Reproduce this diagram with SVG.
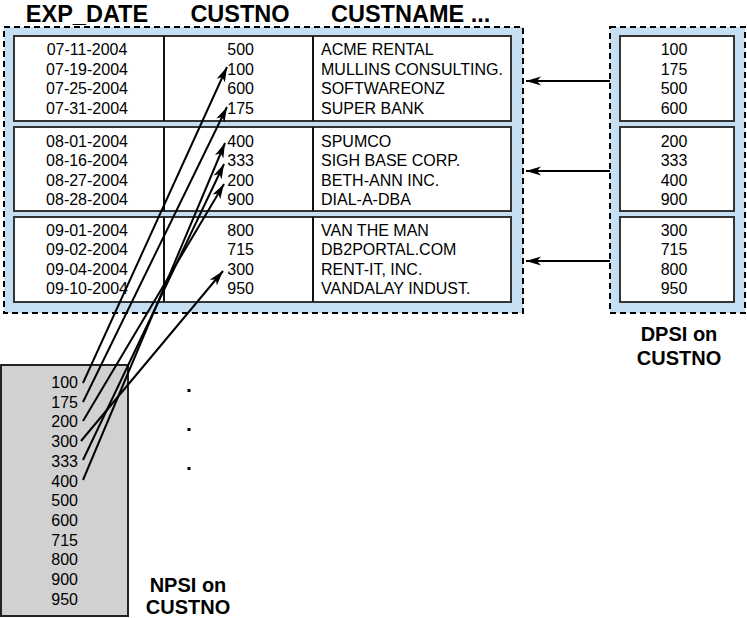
<svg xmlns="http://www.w3.org/2000/svg" width="747" height="618" viewBox="0 0 747 618">
<style>
.t{font-family:"Liberation Sans",Arial,sans-serif;font-size:16px;fill:#000}
.h{font-family:"Liberation Sans",Arial,sans-serif;font-size:23.5px;font-weight:bold;fill:#000}
.l{font-family:"Liberation Sans",Arial,sans-serif;font-size:20px;font-weight:bold;fill:#000;text-anchor:middle}
.c{text-anchor:middle}
.r{text-anchor:end}
.dash{fill:#c6def2;stroke:#000;stroke-width:2;stroke-dasharray:6,4}
.cell{fill:#fff;stroke:#333;stroke-width:2}
.sep{stroke:#111;stroke-width:2}
.ar{stroke:#000;stroke-width:2;fill:none;marker-end:url(#ah)}
</style>
<defs>
<marker id="ah" markerUnits="userSpaceOnUse" markerWidth="18" markerHeight="12" refX="15" refY="5" orient="auto">
<path d="M0,0.5 L15,5 L0,9.5 L4,5 Z" fill="#000"/>
</marker>
</defs>
<g id="headers">
<text class="h c" x="87" y="21.5">EXP_DATE</text>
<text class="h c" x="240" y="21.5">CUSTNO</text>
<text class="h" x="331" y="21.5">CUSTNAME ...</text>
</g>
<g id="table">
<rect class="dash" x="4" y="27" width="519" height="286"/>
<rect class="cell" x="14" y="36" width="497" height="85"/>
<rect class="cell" x="14" y="127" width="497" height="84"/>
<rect class="cell" x="14" y="217" width="497" height="85"/>
<line class="sep" x1="164" y1="36" x2="164" y2="121"/>
<line class="sep" x1="313" y1="36" x2="313" y2="121"/>
<line class="sep" x1="164" y1="127" x2="164" y2="211"/>
<line class="sep" x1="313" y1="127" x2="313" y2="211"/>
<line class="sep" x1="164" y1="217" x2="164" y2="302"/>
<line class="sep" x1="313" y1="217" x2="313" y2="302"/>
<g class="t c">
<text x="87" y="55">07-11-2004</text>
<text x="87" y="74.5">07-19-2004</text>
<text x="87" y="94">07-25-2004</text>
<text x="87" y="113.5">07-31-2004</text>
<text x="87" y="146.5">08-01-2004</text>
<text x="87" y="166">08-16-2004</text>
<text x="87" y="185.5">08-27-2004</text>
<text x="87" y="205">08-28-2004</text>
<text x="87" y="235.5">09-01-2004</text>
<text x="87" y="255">09-02-2004</text>
<text x="87" y="274.5">09-04-2004</text>
<text x="87" y="294">09-10-2004</text>
</g>
<g class="t r">
<text x="254" y="55">500</text>
<text x="254" y="74.5">100</text>
<text x="254" y="94">600</text>
<text x="254" y="113.5">175</text>
<text x="254" y="146.5">400</text>
<text x="254" y="166">333</text>
<text x="254" y="185.5">200</text>
<text x="254" y="205">900</text>
<text x="254" y="235.5">800</text>
<text x="254" y="255">715</text>
<text x="254" y="274.5">300</text>
<text x="254" y="294">950</text>
</g>
<g class="t">
<text x="321" y="55">ACME RENTAL</text>
<text x="321" y="74.5">MULLINS CONSULTING.</text>
<text x="321" y="94">SOFTWAREONZ</text>
<text x="321" y="113.5">SUPER BANK</text>
<text x="321" y="146.5">SPUMCO</text>
<text x="321" y="166">SIGH BASE CORP.</text>
<text x="321" y="185.5">BETH-ANN INC.</text>
<text x="321" y="205">DIAL-A-DBA</text>
<text x="321" y="235.5">VAN THE MAN</text>
<text x="321" y="255">DB2PORTAL.COM</text>
<text x="321" y="274.5">RENT-IT, INC.</text>
<text x="321" y="294">VANDALAY INDUST.</text>
</g>
</g>
<g id="dpsi">
<rect class="dash" x="610" y="27" width="135" height="286"/>
<rect class="cell" x="620" y="36" width="114" height="85"/>
<rect class="cell" x="620" y="127" width="114" height="84"/>
<rect class="cell" x="620" y="217" width="114" height="85"/>
<g class="t c">
<text x="674" y="55">100</text>
<text x="674" y="74.5">175</text>
<text x="674" y="94">500</text>
<text x="674" y="113.5">600</text>
<text x="674" y="146.5">200</text>
<text x="674" y="166">333</text>
<text x="674" y="185.5">400</text>
<text x="674" y="205">900</text>
<text x="674" y="235.5">300</text>
<text x="674" y="255">715</text>
<text x="674" y="274.5">800</text>
<text x="674" y="294">950</text>
</g>
<text class="l" x="679" y="341">DPSI on</text>
<text class="l" x="679" y="365">CUSTNO</text>
</g>
<g id="npsi">
<rect x="1" y="365" width="127" height="251" fill="#d1d1d1" stroke="#222" stroke-width="2"/>
<g class="t r">
<text x="78" y="388">100</text>
<text x="78" y="407.7">175</text>
<text x="78" y="427.4">200</text>
<text x="78" y="447.1">300</text>
<text x="78" y="466.8">333</text>
<text x="78" y="486.5">400</text>
<text x="78" y="506.2">500</text>
<text x="78" y="525.9">600</text>
<text x="78" y="545.6">715</text>
<text x="78" y="565.3">800</text>
<text x="78" y="585">900</text>
<text x="78" y="604.7">950</text>
</g>
<text class="l" x="188" y="592">NPSI on</text>
<text class="l" x="188" y="614">CUSTNO</text>
</g>
<g id="dots" fill="#000">
<rect x="187.5" y="389" width="3" height="3"/>
<rect x="187.5" y="428" width="3" height="3"/>
<rect x="187.5" y="467" width="3" height="3"/>
</g>
<g id="connectors">
<line class="ar" x1="83" y1="383" x2="227" y2="67"/>
<line class="ar" x1="83" y1="402" x2="227" y2="107"/>
<line class="ar" x1="83" y1="421" x2="224" y2="184"/>
<line class="ar" x1="81" y1="441" x2="223" y2="271"/>
<line class="ar" x1="83" y1="460" x2="224" y2="164"/>
<line class="ar" x1="83" y1="480" x2="225" y2="143"/>
<line class="ar" x1="610" y1="81" x2="526" y2="81"/>
<line class="ar" x1="610" y1="171" x2="526" y2="171"/>
<line class="ar" x1="610" y1="261" x2="526" y2="261"/>
</g>
</svg>
